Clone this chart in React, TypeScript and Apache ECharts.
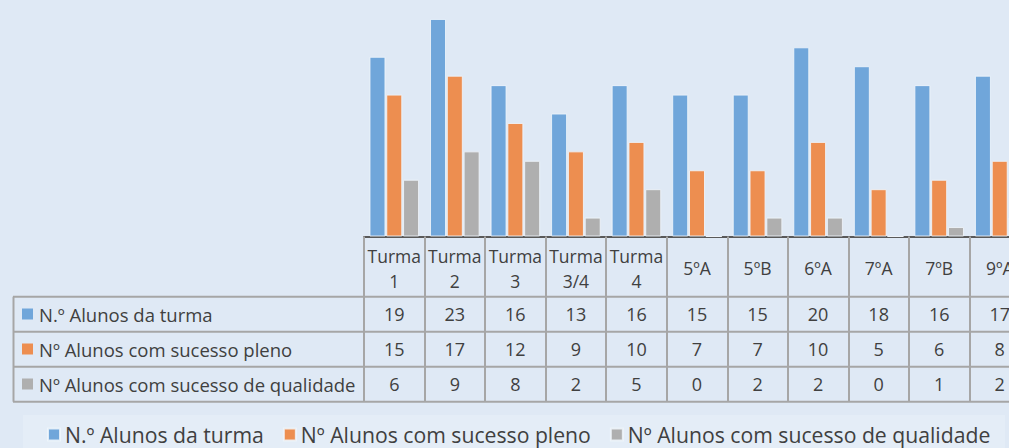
import React, { useEffect, useRef } from "react";
import * as echarts from "echarts";

const categories = ["Turma 1", "Turma 2", "Turma 3", "Turma 3/4", "Turma 4", "5ºA", "5ºB", "6ºA", "7ºA", "7ºB", "9ºA"];
const seriesNames = ["N.º Alunos da turma", "Nº Alunos com sucesso pleno", "Nº Alunos com sucesso de qualidade"];
const totalStudents = [19, 23, 16, 13, 16, 15, 15, 20, 18, 16, 17];
const fullSuccess = [15, 17, 12, 9, 10, 7, 7, 10, 5, 6, 8];
const qualitySuccess = [6, 9, 8, 2, 5, 0, 2, 2, 0, 1, 2];
const colors = ["#70a6da", "#ed8e50", "#afafaf"];

const FONT = "'Open Sans', sans-serif";
const TEXT = "#404040";
const BORDER = "#a6a6a6";

export default function App() {
  const ref = useRef<HTMLDivElement>(null);
  useEffect(() => {
    if (!ref.current) return;
    const chart = echarts.init(ref.current, null, { renderer: "svg" });
    const seriesData = [totalStudents, fullSuccess, qualitySuccess];
    chart.setOption({
      animation: false,
      backgroundColor: "#dfe9f5",
      textStyle: { fontFamily: FONT },
      grid: { left: 364, top: -1, width: 666, height: 237.5 },
      legend: {
        left: 47,
        top: 424,
        padding: 0,
        icon: "rect",
        itemWidth: 12,
        itemHeight: 12,
        itemGap: 19,
        textStyle: { fontSize: 21.2, color: TEXT, fontFamily: FONT },
        data: seriesNames,
        z: 10,
      },
      xAxis: {
        type: "category",
        data: categories,
        axisLine: { lineStyle: { color: "#595959", width: 2 } },
        axisTick: { show: true, length: 165, interval: 0, lineStyle: { color: BORDER, width: 2 } },
        axisLabel: {
          interval: 0,
          margin: 31.5,
          verticalAlign: "middle",
          fontSize: 17.5,
          lineHeight: 25,
          color: TEXT,
          fontFamily: FONT,
          formatter: (v: string) => v.replace(" ", "\n"),
        },
      },
      yAxis: { type: "value", min: 0, max: 25, show: false, splitLine: { show: false } },
      series: seriesNames.map((name, k) => ({
        name,
        type: "bar",
        data: seriesData[k],
        barWidth: 16,
        barGap: "5%",
        itemStyle: { color: colors[k], borderColor: "rgba(240,246,252,0.85)", borderWidth: 1 },
      })),
    });

    const rowY = [314, 349, 384];
    const lineYs = [296.7, 331.7, 366.7, 401.7];
    const elements: any[] = [];
    elements.push({
      type: "rect",
      shape: { x: 23, y: 415, width: 982, height: 40 },
      style: { fill: "#e4edf7" },
      z: 0,
    });
    lineYs.forEach((y) => {
      elements.push({
        type: "line",
        shape: { x1: 13, y1: y, x2: 1040, y2: y },
        style: { stroke: BORDER, lineWidth: 2 },
        z: 5,
      });
    });
    elements.push({
      type: "line",
      shape: { x1: 13.5, y1: 296.7, x2: 13.5, y2: 401.7 },
      style: { stroke: BORDER, lineWidth: 2 },
      z: 5,
    });
    seriesNames.forEach((name, r) => {
      elements.push({
        type: "rect",
        shape: { x: 22, y: rowY[r] - 5.5, width: 11, height: 11 },
        style: { fill: colors[r] },
        z: 6,
      });
      elements.push({
        type: "text",
        x: 39,
        y: rowY[r],
        style: { text: name, fontSize: 18.5, fill: TEXT, fontFamily: FONT, textVerticalAlign: "middle", textAlign: "left" },
        z: 6,
      });
      seriesData[r].forEach((v, i) => {
        const px = chart.convertToPixel({ xAxisIndex: 0 }, i) as number;
        elements.push({
          type: "text",
          x: px,
          y: rowY[r],
          style: { text: String(v), fontSize: 18, fill: TEXT, fontFamily: FONT, textVerticalAlign: "middle", textAlign: "center" },
          z: 6,
        });
      });
    });
    chart.setOption({ graphic: { elements } });
    return () => chart.dispose();
  }, []);
  return (
    <div style={{ position: "absolute", left: 0, top: 0, width: 1009, height: 448, overflow: "hidden", background: "#dfe9f5" }}>
      <div ref={ref} style={{ width: 1040, height: 448 }} />
    </div>
  );
}
